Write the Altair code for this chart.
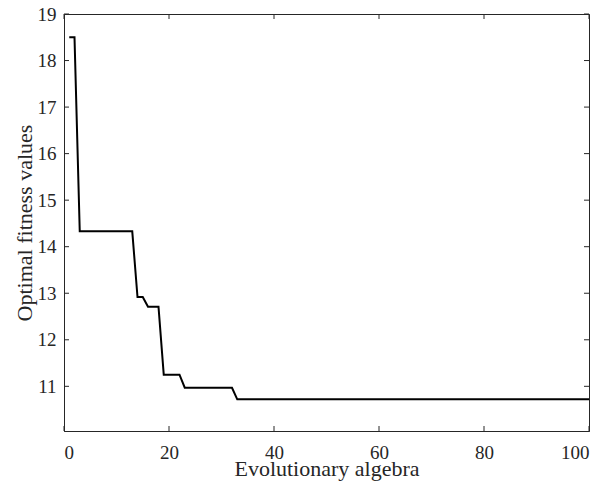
import altair as alt
import pandas as pd

# Step points of the convergence curve (generation, best fitness)
generations = [1, 2, 3, 13, 14, 15, 16, 18, 19, 22, 23, 32, 33, 100]
fitness = [18.5, 18.5, 14.33, 14.33, 12.92, 12.92, 12.71, 12.71, 11.25, 11.25, 10.97, 10.97, 10.72, 10.72]

x_ticks = [0, 20, 40, 60, 80, 100]
y_ticks = [11, 12, 13, 14, 15, 16, 17, 18, 19]

W, H = 525, 417
FONT = "Liberation Serif"
AX = "#262626"

df = pd.DataFrame({"gen": generations, "fit": fitness})
dx = pd.DataFrame({"t": x_ticks})
dy = pd.DataFrame({"t": y_ticks})

xscale = alt.Scale(domain=[0, 100], nice=False, zero=False)
yscale = alt.Scale(domain=[10.04, 19], nice=False, zero=False)

line = alt.Chart(df).mark_line(color="black", strokeWidth=2).encode(
    x=alt.X("gen:Q", scale=xscale,
            axis=alt.Axis(values=x_ticks, title="Evolutionary algebra", ticks=False,
                          grid=False, labelPadding=27, labelBaseline="alphabetic",
                          titleX=W / 2, titleY=44, titleBaseline="alphabetic",
                          format="d")),
    y=alt.Y("fit:Q", scale=yscale,
            axis=alt.Axis(values=y_ticks, title="Optimal fitness values", ticks=False,
                          grid=False, labelPadding=8, titleX=-33, titleY=H / 2,
                          titleBaseline="alphabetic", format="d")),
)

xt_bottom = alt.Chart(dx).mark_rule(color=AX, strokeWidth=1).encode(
    x=alt.X("t:Q", scale=xscale), y=alt.value(H), y2=alt.value(H - 5))
xt_top = alt.Chart(dx).mark_rule(color=AX, strokeWidth=1).encode(
    x=alt.X("t:Q", scale=xscale), y=alt.value(0), y2=alt.value(5))
yt_left = alt.Chart(dy).mark_rule(color=AX, strokeWidth=1).encode(
    y=alt.Y("t:Q", scale=yscale), x=alt.value(0), x2=alt.value(5))
yt_right = alt.Chart(dy).mark_rule(color=AX, strokeWidth=1).encode(
    y=alt.Y("t:Q", scale=yscale), x=alt.value(W), x2=alt.value(W - 5))

chart = alt.layer(xt_bottom, xt_top, yt_left, yt_right, line).properties(
    width=W, height=H,
    background="white",
    autosize=alt.AutoSizeParams(type="none"),
    padding={"left": 64, "top": 14, "right": 17, "bottom": 61},
).configure_view(stroke=AX, strokeWidth=1).configure_axis(
    domainColor=AX, labelFont=FONT, titleFont=FONT, labelFontSize=19,
    titleFontSize=22, labelColor="#262626", titleColor="#262626",
    titleFontWeight="normal",
)

chart.save("out.html", embed_options={"renderer": "svg", "actions": False})
